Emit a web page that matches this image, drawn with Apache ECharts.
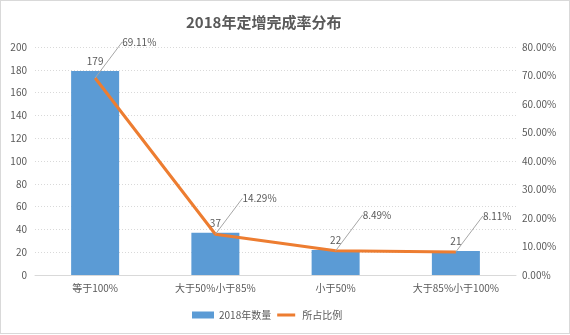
<!DOCTYPE html>
<html><head><meta charset="utf-8">
<script src="https://cdn.jsdelivr.net/npm/echarts@6/dist/echarts.min.js"></script>
<style>html,body{margin:0;padding:0;background:#fff;}
#c{width:568px;height:332px;border:1px solid #d9d9d9;box-sizing:content-box;}</style>
</head><body><div id="c"></div>
<script>
const categories = ['等于100%', '大于50%小于85%', '小于50%', '大于85%小于100%'];
const counts = [179, 37, 22, 21];
const ratios = [69.11, 14.29, 8.49, 8.11];
const seriesNames = ['2018年数量', '所占比例'];
const titleText = '2018年定增完成率分布';

const font = '"Noto Sans CJK SC", "Microsoft YaHei", sans-serif';
const grey = '#595959';
const chart = echarts.init(document.getElementById('c'));
chart.setOption({
  animation: false,
  textStyle: {fontFamily: font},
  title: {text: titleText, left: 180, top: 9,
    textStyle: {fontSize: 15, fontWeight: 'bold', color: grey, fontFamily: font}},
  grid: {left: 34, right: 53, top: 46, bottom: 58},
  legend: {bottom: 8, left: 186, itemGap: 4, itemWidth: 22, itemHeight: 7,
    textStyle: {fontSize: 10, color: grey, fontFamily: font},
    data: [{name: seriesNames[0], icon: 'rect'},
           {name: seriesNames[1], icon: 'path://M0,0L22,0M2,2L20,2L20,5L2,5ZM0,7L22,7'}]},
  xAxis: {type: 'category', data: categories,
    axisLine: {lineStyle: {color: '#d9d9d9'}}, axisTick: {show: false},
    axisLabel: {color: grey, fontSize: 10, margin: 8}},
  yAxis: [
    {type: 'value', min: 0, max: 200, interval: 20,
      axisLine: {show: false}, axisTick: {show: false},
      axisLabel: {color: grey, fontSize: 10, margin: 8},
      splitLine: {lineStyle: {color: '#d9d9d9', type: [1, 2]}}},
    {type: 'value', min: 0, max: 80, interval: 10,
      axisLine: {show: false}, axisTick: {show: false}, splitLine: {show: false},
      axisLabel: {color: grey, fontSize: 10, margin: 6,
        formatter: v => v.toFixed(2) + '%'}}
  ],
  series: [
    {name: seriesNames[0], type: 'bar', data: counts, barWidth: 48,
      itemStyle: {color: '#5B9BD5'},
      label: {show: true, position: 'top', distance: 5, color: grey, fontSize: 10}},
    {name: seriesNames[1], type: 'line', yAxisIndex: 1, data: ratios,
      symbol: 'circle', symbolSize: 0.1, showSymbol: true,
      lineStyle: {color: '#ED7D31', width: 3}, itemStyle: {color: '#ED7D31'},
      label: {show: true, position: 'right', distance: 0, color: grey, fontSize: 10,
        formatter: p => p.value.toFixed(2) + '%'},
      labelLine: {show: true, lineStyle: {color: '#a6a6a6', width: 1}},
      labelLayout: {dx: 27, dy: -36}}
  ]
});
</script></body></html>
